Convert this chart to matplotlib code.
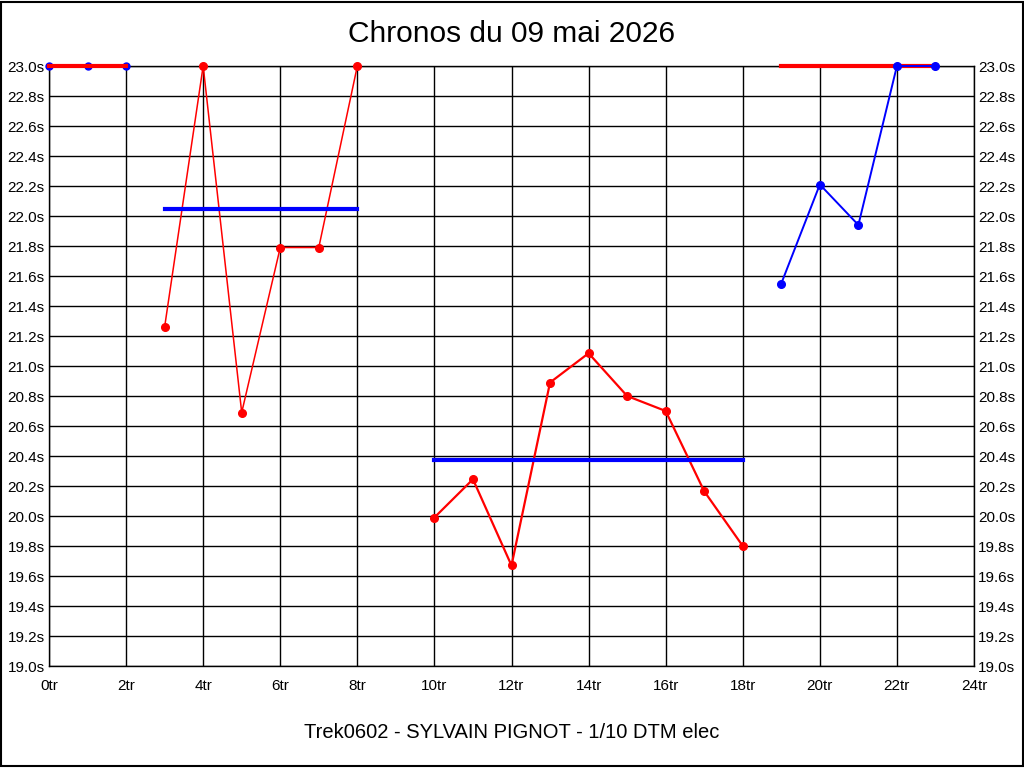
import matplotlib
matplotlib.use('Agg')
import matplotlib.pyplot as plt
from matplotlib.patches import Rectangle

plt.rcParams['font.family'] = ['Liberation Sans', 'DejaVu Sans']

# session 1 : blue laps, red average
s1_x = [0, 1, 2]
s1_y = [23.0, 23.0, 23.0]
s1_avg = 23.0
# session 2 : red laps, blue average
s2_x = [3, 4, 5, 6, 7, 8]
s2_y = [21.26, 23.0, 20.69, 21.79, 21.79, 23.0]
s2_avg = 22.05
# session 3
s3_x = [10, 11, 12, 13, 14, 15, 16, 17, 18]
s3_y = [19.99, 20.245, 19.67, 20.89, 21.085, 20.80, 20.70, 20.165, 19.80]
s3_avg = 20.375
# session 4
s4_x = [19, 20, 21, 22, 23]
s4_y = [21.55, 22.21, 21.94, 23.0, 23.0]
s4_avg = 23.0

xticks = list(range(0, 25, 2))
yticks = [19.0 + 0.2 * i for i in range(21)]

fig = plt.figure(figsize=(10.24, 7.68), dpi=100)
ax = fig.add_axes([49 / 1024, 1 - 666 / 768, 925 / 1024, 600 / 768])

ax.plot(s1_x, s1_y, color='blue', lw=1.2, marker='o', ms=5, zorder=3, clip_on=False)
ax.plot([s1_x[0], s1_x[-1]], [s1_avg, s1_avg], color='red', lw=3, zorder=4, clip_on=False)

ax.plot(s2_x, s2_y, color='red', lw=1.1, marker='o', ms=5.5, zorder=3, clip_on=False)
ax.plot([s2_x[0], s2_x[-1]], [s2_avg, s2_avg], color='blue', lw=3, zorder=4)

ax.plot(s3_x, s3_y, color='red', lw=1.6, marker='o', ms=5.5, zorder=3)
ax.plot([s3_x[0], s3_x[-1]], [s3_avg, s3_avg], color='blue', lw=3, zorder=4)

ax.plot(s4_x, s4_y, color='blue', lw=1.4, marker='o', ms=5.5, zorder=5, clip_on=False)
ax.plot([s4_x[0], s4_x[-1]], [s4_avg, s4_avg], color='red', lw=3, zorder=4, clip_on=False)

ax.set_xlim(0, 24)
ax.set_ylim(19.0, 23.0)
ax.set_xticks(xticks)
ax.set_xticklabels(['%dtr' % v for v in xticks])
ax.set_yticks(yticks)
ax.set_yticklabels(['%.1fs' % v for v in yticks])
ax.tick_params(axis='both', length=0, labelsize=11, pad=4)
ax.tick_params(axis='y', labelright=True, pad=3)
ax.tick_params(axis='x', pad=9)
ax.grid(True, color='black', lw=1)
ax.set_axisbelow(True)
for sp in ax.spines.values():
    sp.set_linewidth(1)

fig.text(0.5, 1 - 34 / 768, 'Chronos du 09 mai 2026', ha='center', va='center', fontsize=21.5)
fig.text(0.5, 1 - 733 / 768, 'Trek0602 - SYLVAIN PIGNOT - 1/10 DTM elec', ha='center', va='center', fontsize=14.5)
fig.patches.append(Rectangle((0.001, 0.002), 0.998, 0.996, transform=fig.transFigure,
                             fill=False, edgecolor='black', lw=1.5))

fig.savefig('out.png', dpi=100)
